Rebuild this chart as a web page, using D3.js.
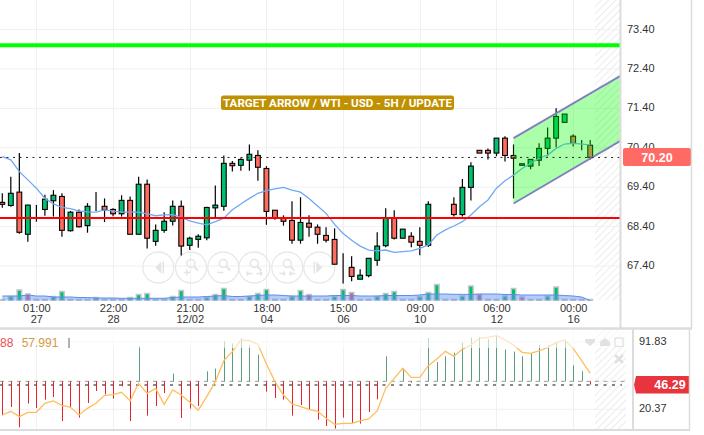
<!DOCTYPE html>
<html>
<head>
<meta charset="utf-8">
<script src="https://cdn.jsdelivr.net/npm/d3@7/dist/d3.min.js"></script>
<style>
  html, body { margin: 0; padding: 0; background: #fff; overflow: hidden; }
  text { font-family: "Liberation Sans", Arial, sans-serif; }
  .axis text { font-size: 11px; fill: #333; }
  .axis path, .axis line { display: none; }
</style>
</head>
<body>
<div id="chart"></div>
<script>
// candles
var opens = [68.99,68.91,69.25,68.18,68.80,68.81,69.03,69.14,68.27,68.74,68.40,68.89,68.89,68.81,68.70,69.04,68.18,69.45,68.00,68.28,
  68.51,68.89,67.90,68.05,68.09,68.85,68.89,69.98,69.93,70.06,70.18,69.85,68.79,68.59,68.53,68.03,68.46,68.36,68.15,68.05,
  67.38,67.34,67.04,67.13,67.52,67.89,68.59,68.08,68.13,68.00,67.90,68.41,68.53,68.94,68.68,69.37,70.31,70.31,70.24,70.62,
  70.18,69.93,69.91,70.06,70.36,70.62,71.02,70.67,70.44,70.44];
var highs = [69.22,69.64,70.24,68.93,68.92,69.18,69.30,69.22,68.77,68.81,68.97,69.25,69.09,68.84,69.17,69.14,69.64,69.57,68.43,68.74,
  69.04,69.04,68.12,68.18,68.88,69.42,70.18,70.04,70.11,70.46,70.31,69.91,68.79,68.66,69.02,69.12,68.66,68.43,68.36,68.33,
  67.70,67.62,67.29,67.57,68.23,68.84,68.79,68.31,68.23,68.36,69.02,68.41,68.53,69.12,69.58,70.01,70.31,70.36,70.62,70.67,
  70.46,69.97,70.08,70.49,70.89,71.38,71.23,70.72,70.57,70.57];
var lows = [68.85,68.88,68.19,67.99,68.50,68.65,68.63,68.12,68.25,68.35,68.22,68.77,68.49,68.64,68.63,68.18,68.18,67.82,67.89,68.22,
  68.40,67.64,67.78,67.84,68.03,68.61,68.78,69.77,69.79,69.79,69.54,68.42,68.55,68.40,67.94,67.94,68.12,67.94,67.97,67.42,
  66.93,66.99,67.04,67.09,67.38,67.85,68.05,68.08,67.85,67.65,67.86,68.41,68.53,68.63,68.63,69.04,70.24,70.08,70.16,70.03,
  69.09,69.93,69.83,69.91,70.16,70.39,71.02,70.41,70.31,70.08];
var closes = [68.94,69.22,68.23,68.92,68.80,69.07,69.17,68.28,68.74,68.37,68.89,68.89,68.80,68.70,69.04,68.18,69.45,68.08,68.28,68.51,
  68.89,67.88,68.08,68.13,68.86,68.92,69.98,69.92,70.08,70.21,69.88,68.76,68.59,68.51,68.03,68.48,68.36,68.18,68.03,67.42,
  67.38,67.11,67.14,67.57,67.88,68.59,68.08,68.31,67.98,67.90,68.94,68.41,68.53,68.68,69.37,69.91,70.24,70.24,70.62,70.18,
  70.11,69.97,70.08,70.36,70.62,71.17,71.23,70.49,70.44,70.13];
var priceMA = [70.15,70.07,69.77,69.56,69.35,69.09,68.95,68.86,68.83,68.77,68.75,68.74,68.80,68.77,68.74,68.74,68.74,68.70,68.65,68.67,
  68.68,68.61,68.52,68.46,68.42,68.50,68.59,68.80,68.95,69.09,69.22,69.29,69.33,69.37,69.30,69.25,69.09,68.90,68.71,68.43,
  68.20,68.03,67.88,67.78,67.76,67.78,67.72,67.74,67.76,67.82,67.91,68.16,68.29,68.39,68.50,68.67,68.88,69.05,69.35,69.54,
  69.68,69.85,69.98,70.11,70.19,70.36,70.47,70.49,70.47,70.45];

var volumes = [1,4,10.5,6.5,1,1,4,9,1,1,1,3,1,1,1,3,6,7,1,1,4,10,1,1,3,6,12,1,1,4,7,11,1,1,4,10,6,1,1,4,
  11,8,1,1,4,7,9,1,1,4,8,16,1,1,4.5,14.5,6,1,1,4.5,12,3.5,1,1,4.5,13.5,1,1,1,1];
var volumeRed = [3,36,41,56,61];
var volumeMA = [4.5,4.5,4.5,5.5,4.5,4.5,3.5,3.5,3.5,3,3,2.5,2.5,2.5,2.2,2.2,2.2,2.2,2.2,2.2,3,3.5,3.5,3.5,4,4.5,5,4,4,4.5,5,5.5,5.5,5,4.5,4.5,4.5,4.5,4.5,5,
  5,5,4.5,4.5,4.5,5,5,5,5,5.5,6.5,6.5,6.5,6.2,6.2,6,6.5,6.5,6.5,6,6,5.5,5.5,5.5,5.5,5.5,5,4.5,3.5,0];

var histogram = [-34,-25.7,-46,-22.3,-26.7,-18.3,-15.7,-39.7,-25.7,-36.3,-21.7,-9.7,-13,-17.3,-5,-39.7,35.3,-34.3,-24.7,-11.7,
  7.7,-36.7,-27.3,-24.7,10,12.7,40,37.7,43.3,36,26.7,-10.3,-16.7,-18.3,-34.3,-23.7,-28,-38.3,-44.7,-47.3,
  -36.3,-41.7,-42.3,-30.7,-18,25,0,12.7,-1.3,0,43.3,19.3,25,28.7,38.7,43.7,44.3,42,46,31.7,
  29.7,25,27.7,36,36,39.3,41,16,10,-3.3];
var oscillator = [13.27,17.17,11.50,16.10,16.10,25.66,28.14,23.53,21.41,13.27,20.35,25.66,34.15,34.86,37.33,28.14,46.89,36.27,41.58,24.59,
  39.81,34.50,26.72,18.23,32.73,48.66,70.95,80.50,92.89,92.18,88.29,67.41,48.66,34.50,24.95,22.12,19.29,17.17,9.73,3.37,
  4.43,4.43,6.90,9.03,17.52,41.58,52.20,62.81,53.26,53.26,65.64,72.72,80.86,75.55,82.98,87.58,94.66,95.72,97.49,92.89,
  87.58,79.80,78.74,81.21,85.11,90.06,92.89,84.04,70.95,57.50];

var timeTicks = [4,13,22,31,40,49,58,67];
var timeLabels = ["01:00","22:00","21:00","18:00","15:00","09:00","06:00","00:00"];
var dateLabels = ["27","28","12/02","04","06","10","12","16"];
var priceTicks = [73.4,72.4,71.4,70.4,69.4,68.4,67.4];
var oscTicks = [91.83,20.37];

var targetLevel = 72.98, supportLevel = 68.59;
var channelX = [60,72.7];
var channelTop = [70.62,72.22];
var channelBottom = [68.96,70.57];

var titleText = "TARGET ARROW / WTI - USD - 5H / UPDATE";

var w = 704, h = 435, plotRight = 620;

var svg = d3.select("#chart").append("svg")
  .attr("width", w).attr("height", h)
  .style("display", "block");

var x = d3.scaleLinear().domain([0, 69]).range([2.3, 590.2]);
var y = d3.scaleLinear().domain([72.4, 67.4]).range([68, 265]);
var yVol = d3.scaleLinear().domain([0, 17]).range([300.5, 283.5]);
var yOsc = d3.scaleLinear().domain([91.83, 20.37]).range([341, 408.3]);
var yHist = d3.scaleLinear().domain([-50, 50]).range([431.3, 331.3]);

var idx = d3.range(opens.length);

var defs = svg.append("defs");
defs.append("clipPath").attr("id", "clipPrice")
  .append("rect").attr("x", 0).attr("y", 0).attr("width", plotRight).attr("height", 301);
var hatch = defs.append("pattern").attr("id", "hatch")
  .attr("patternUnits", "userSpaceOnUse").attr("width", 5).attr("height", 5)
  .attr("patternTransform", "rotate(45)");
hatch.append("line").attr("x1", 0).attr("x2", 0).attr("y1", 0).attr("y2", 5)
  .attr("stroke", "#ececec").attr("stroke-width", 2);

// hatched future zone
svg.append("rect").attr("x", 595).attr("y", 0).attr("width", 25).attr("height", 300).attr("fill", "url(#hatch)");
svg.append("rect").attr("x", 595).attr("y", 330).attr("width", 31).attr("height", 99).attr("fill", "url(#hatch)");

// grid
svg.append("g").selectAll("line").data(priceTicks).join("line")
  .attr("x1", 0).attr("x2", plotRight)
  .attr("y1", function(d) { return y(d) + 1; }).attr("y2", function(d) { return y(d) + 1; })
  .attr("stroke", "#f0f0f0");
svg.append("g").selectAll("line").data(timeTicks).join("line")
  .attr("x1", function(d) { return Math.round(x(d)) + 0.5; }).attr("x2", function(d) { return Math.round(x(d)) + 0.5; })
  .attr("y1", 0).attr("y2", 301)
  .attr("stroke", "#f0f0f0");
svg.append("g").selectAll("line").data(timeTicks).join("line")
  .attr("x1", function(d) { return Math.round(x(d)) + 0.5; }).attr("x2", function(d) { return Math.round(x(d)) + 0.5; })
  .attr("y1", 330).attr("y2", 429)
  .attr("stroke", "#f0f0f0");
svg.append("g").selectAll("line").data(oscTicks).join("line")
  .attr("x1", 0).attr("x2", 626)
  .attr("y1", function(d) { return yOsc(d) + 1; }).attr("y2", function(d) { return yOsc(d) + 1; })
  .attr("stroke", "#f0f0f0");

// navigation buttons
var navX = [158.3,191,223.3,254.3,287.3,319.3];
var nav = svg.append("g").selectAll("g").data(navX).join("g")
  .attr("transform", function(d) { return "translate(" + d + ",267.5)"; });
nav.append("circle").attr("r", 15.5).attr("fill", "none").attr("stroke", "#e8e8e8").attr("stroke-width", 1.3);
nav.each(function(d, i) {
  var g = d3.select(this), c = "#e4e4e4";
  if (i == 0 || i == 5) {
    var s = i == 0 ? 1 : -1;
    g.append("path").attr("d", "M" + (3*s) + ",-6L" + (-3*s) + ",0L" + (3*s) + ",6Z").attr("fill", c);
    g.append("line").attr("x1", 5*s).attr("x2", 5*s).attr("y1", -6).attr("y2", 6).attr("stroke", c).attr("stroke-width", 1.5);
    return;
  }
  g.append("circle").attr("cx", 0).attr("cy", -4).attr("r", 4).attr("fill", "none").attr("stroke", c).attr("stroke-width", 1.5);
  g.append("line").attr("x1", 3).attr("y1", -1).attr("x2", 7).attr("y2", 3).attr("stroke", c).attr("stroke-width", 2);
  var marks = ["", "M-7,5H-1M-4,2V8", "M-6,5H0", "M-8,6H-2M-8,6L-6,4M-8,6L-6,8M2,6H8M8,6L6,4M8,6L6,8", "M-8,6H-2M-2,6L-4,4M-2,6L-4,8M2,6H8M2,6L4,4M2,6L4,8"];
  g.append("path").attr("d", marks[i]).attr("fill", "none").attr("stroke", c).attr("stroke-width", 1.5);
});

var plot = svg.append("g").attr("clip-path", "url(#clipPrice)");

// volume
var volWidth = 4.5;
plot.append("g").selectAll("rect").data(idx).join("rect")
  .attr("x", function(i) { return x(i) - volWidth / 2; })
  .attr("y", function(i) { return yVol(volumes[i]); })
  .attr("width", volWidth)
  .attr("height", function(i) { return yVol(0) - yVol(volumes[i]); })
  .attr("fill", function(i) {
    if (volumes[i] <= 1) return "#c4c4c4";
    return volumeRed.indexOf(i) >= 0 ? "#d45f7c" : "#00c070";
  })
  .attr("stroke", "#c6c6c6").attr("stroke-width", 1.5);
var volArea = d3.area().x(function(i) { return x(i); }).y0(yVol(0)).y1(function(i) { return yVol(volumeMA[i]); });
var volLine = d3.line().x(function(i) { return x(i); }).y(function(i) { return yVol(volumeMA[i]); });
plot.append("path").datum(idx).attr("d", volArea).attr("fill", "#5b8def").attr("fill-opacity", 0.45);
plot.append("path").datum(idx).attr("d", volLine).attr("fill", "none").attr("stroke", "#5b8def").attr("stroke-width", 1);

// candles
var candle = plot.append("g").selectAll("g").data(idx).join("g");
candle.append("line")
  .attr("x1", function(i) { return x(i); }).attr("x2", function(i) { return x(i); })
  .attr("y1", function(i) { return y(highs[i]); }).attr("y2", function(i) { return y(lows[i]); })
  .attr("stroke", "#000").attr("stroke-width", 1.2);
candle.append("rect")
  .attr("x", function(i) { return x(i) - 2.4; })
  .attr("y", function(i) { return y(Math.max(opens[i], closes[i])); })
  .attr("width", 4.8)
  .attr("height", function(i) { return Math.abs(y(opens[i]) - y(closes[i])); })
  .attr("fill", function(i) { return closes[i] >= opens[i] ? "#00c070" : "#ff6b5e"; })
  .attr("stroke", function(i) { return highs[i] == lows[i] ? "#777" : "#000"; })
  .attr("stroke-width", function(i) { return highs[i] == lows[i] ? 0.8 : 1.1; });

// price moving average
var maLine = d3.line().x(function(i) { return x(i); }).y(function(i) { return y(priceMA[i]); });
plot.append("path").datum(idx).attr("d", maLine).attr("fill", "none").attr("stroke", "#6fa8f5").attr("stroke-width", 1.3);

// last price dotted line
svg.append("line").attr("x1", 0).attr("x2", plotRight)
  .attr("y1", y(closes[69])).attr("y2", y(closes[69]))
  .attr("stroke", "#222").attr("stroke-dasharray", "2,4.5");

// horizontal levels
svg.append("line").attr("x1", 0).attr("x2", plotRight)
  .attr("y1", y(targetLevel)).attr("y2", y(targetLevel))
  .attr("stroke", "#00ff00").attr("stroke-width", 4);
svg.append("line").attr("x1", 0).attr("x2", plotRight)
  .attr("y1", y(supportLevel)).attr("y2", y(supportLevel))
  .attr("stroke", "#ff0000").attr("stroke-width", 2);

// channel
var channelPts = [[channelX[0], channelTop[0]], [channelX[1], channelTop[1]], [channelX[1], channelBottom[1]], [channelX[0], channelBottom[0]]];
plot.append("path")
  .attr("d", "M" + channelPts.map(function(p) { return x(p[0]) + "," + y(p[1]); }).join("L") + "Z")
  .attr("fill", "#00ff00").attr("fill-opacity", 0.33);
[channelTop, channelBottom].forEach(function(c) {
  plot.append("line")
    .attr("x1", x(channelX[0])).attr("x2", x(channelX[1]))
    .attr("y1", y(c[0])).attr("y2", y(c[1]))
    .attr("stroke", "#8080bc").attr("stroke-width", 1.8);
});

// title tag
svg.append("rect").attr("x", 221).attr("y", 95.5).attr("width", 233).attr("height", 14.5).attr("rx", 2.5)
  .attr("fill", "#c09000");
svg.append("text").attr("x", 337.5).attr("y", 107).attr("text-anchor", "middle")
  .attr("font-size", 11.6).attr("font-weight", "bold").attr("fill", "#fff")
  .style("font-family", "Roboto").text(titleText);

// price axis
svg.append("g").attr("class", "axis")
  .attr("transform", "translate(" + 624 + ",0)")
  .call(d3.axisRight(y).tickValues(priceTicks).tickSize(0).tickFormat(d3.format(".2f")));

// time axis
var timeAxis = svg.append("g").attr("class", "axis")
  .attr("transform", "translate(0,300)")
  .call(d3.axisBottom(x).tickValues(timeTicks).tickSize(0).tickFormat(function(d, i) { return timeLabels[i]; }));
timeAxis.selectAll("text").attr("y", 4).attr("dy", "0.71em");
timeAxis.selectAll(".tick").append("text")
  .attr("y", 15).attr("dy", "0.71em").attr("fill", "#333").attr("text-anchor", "middle")
  .text(function(d, i) { return dateLabels[i]; });

// last price tag
svg.append("rect").attr("x", 623).attr("y", 148).attr("width", 68).attr("height", 18).attr("rx", 2).attr("fill", "#ff6b64");
svg.append("text").attr("x", 657).attr("y", 161.5).attr("text-anchor", "middle")
  .attr("font-size", 12.5).attr("font-weight", "bold").attr("fill", "#fff").text("70.20");

// oscillator panel
svg.append("line").attr("x1", 0).attr("x2", 626)
  .attr("y1", yHist(0)).attr("y2", yHist(0))
  .attr("stroke", "#9a9a9a").attr("stroke-dasharray", "4,4.5");
svg.append("line").attr("x1", 0).attr("x2", 622)
  .attr("y1", 385).attr("y2", 385)
  .attr("stroke", "#111").attr("stroke-dasharray", "3,5.5");
svg.append("g").selectAll("line").data(idx).join("line")
  .attr("x1", function(i) { return Math.round(x(i)) + 0.5; }).attr("x2", function(i) { return Math.round(x(i)) + 0.5; })
  .attr("y1", yHist(0)).attr("y2", function(i) { return yHist(histogram[i]); })
  .attr("stroke", function(i) { return histogram[i] >= 0 ? "#5c9e7b" : "#e5212b"; })
  .attr("stroke-width", 1);
var oscLine = d3.line().x(function(i) { return x(i); }).y(function(i) { return yOsc(oscillator[i]); });
svg.append("path").datum(idx).attr("d", oscLine).attr("fill", "none").attr("stroke", "#ffbe5c").attr("stroke-width", 1.3);

// legend veil and values
svg.append("rect").attr("x", 0).attr("y", 330).attr("width", 633).attr("height", 18).attr("fill", "#fff").attr("fill-opacity", 0.6);
svg.append("text").attr("x", 0).attr("y", 347)
  .attr("font-size", 12).attr("fill", "#e85050").text("88");
svg.append("text").attr("x", 21.7).attr("y", 347)
  .attr("font-size", 12).attr("fill", "#d49a45").text("57.991");
svg.append("line").attr("x1", 69).attr("x2", 69).attr("y1", 338).attr("y2", 348).attr("stroke", "#888").attr("stroke-width", 1.3);

// panel icons
svg.append("path").attr("d", "M585,339H595V342L590,346L585,342Z").attr("fill", "#e2e2e2");
svg.append("path").attr("d", "M600,346V342L605,338L610,342V346Z").attr("fill", "#e2e2e2");
svg.append("rect").attr("x", 615).attr("y", 338).attr("width", 8).attr("height", 8.5).attr("fill", "none").attr("stroke", "#e2e2e2").attr("stroke-width", 1.3);
svg.append("path").attr("d", "M615,355L623,363M623,355L615,363").attr("fill", "none").attr("stroke", "#e0e0e0").attr("stroke-width", 2.5);

// oscillator axis
svg.append("g").attr("class", "axis")
  .attr("transform", "translate(636,0)")
  .call(d3.axisRight(yOsc).tickValues(oscTicks).tickSize(0).tickFormat(d3.format(".2f")));

svg.append("path").attr("d", "M636,376H689.5V393.5H636L634,385Z").attr("fill", "#e8343c");
svg.append("text").attr("x", 670).attr("y", 388.5).attr("text-anchor", "middle")
  .attr("font-size", 12.5).attr("font-weight", "bold").attr("fill", "#fff").text("46.29");

// frame
var frame = [
  [0, 328.5, 692, 328.5, 2.5],
  [0, 430, 690, 430, 2],
  [620.5, 0, 620.5, 328, 2],
  [691.5, 0, 691.5, 328, 1.5],
  [633, 329, 633, 430, 2],
  [689.5, 329, 689.5, 430, 1.5]
];
svg.append("g").selectAll("line").data(frame).join("line")
  .attr("x1", function(d) { return d[0]; }).attr("y1", function(d) { return d[1]; })
  .attr("x2", function(d) { return d[2]; }).attr("y2", function(d) { return d[3]; })
  .attr("stroke", "#dcdcdc").attr("stroke-width", function(d) { return d[4]; });
</script>
</body>
</html>
